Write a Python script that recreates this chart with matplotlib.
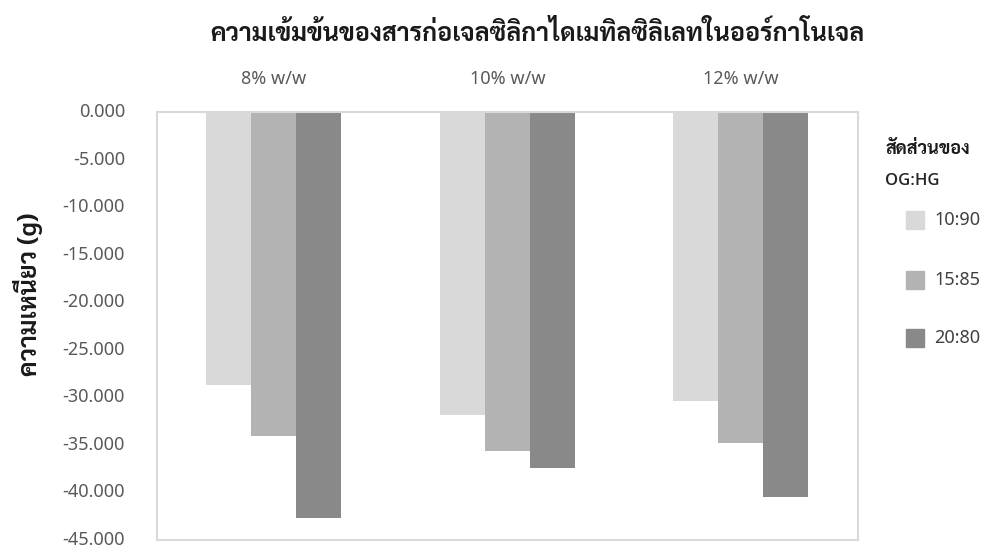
import matplotlib
matplotlib.use("Agg")
import matplotlib.pyplot as plt
from matplotlib.patches import Rectangle
from matplotlib.ticker import FuncFormatter, MultipleLocator
import numpy as np

categories = ["8% w/w", "10% w/w", "12% w/w"]
series_names = ["10:90", "15:85", "20:80"]
values_10_90 = [-28.7, -31.9, -30.4]
values_15_85 = [-34.1, -35.6, -34.8]
values_20_80 = [-42.7, -37.4, -40.5]
colors = ["#d9d9d9", "#b3b3b3", "#898989"]

title = "ความเข้มข้นของสารก่อเจลซิลิกาไดเมทิลซิลิเลทในออร์กาโนเจล"
ylabel = "ความเหนียว (g)"
legend_title = ["สัดส่วนของ", "OG:HG"]

THAI = ["Sarabun", "Noto Sans Thai", "DejaVu Sans"]
LATIN = ["Noto Sans", "DejaVu Sans"]
LATIN_BOLD = ["Open Sans", "Noto Sans", "DejaVu Sans"]
plt.rcParams["font.family"] = LATIN

W, H = 985, 548
fig = plt.figure(figsize=(W / 100, H / 100), dpi=100)
ax = fig.add_axes([157 / W, 1 - 540 / H, 700.7 / W, 428 / H])

x = np.arange(len(categories))
w = 0.1926
for i, vals in enumerate([values_10_90, values_15_85, values_20_80]):
    ax.bar(x + (i - 1) * w, vals, width=w, color=colors[i], edgecolor="none",
           label=series_names[i])

ax.set_xlim(-0.5, 2.5)
ax.set_ylim(-45, 0)
ax.yaxis.set_major_locator(MultipleLocator(5))
ax.yaxis.set_major_formatter(FuncFormatter(lambda v, p: f"{v:.3f}"))
ax.tick_params(axis="y", length=0, pad=23, labelsize=13, labelcolor="#595959")
for lbl in ax.get_yticklabels():
    lbl.set_verticalalignment("center")
ax.set_xticks(x)
ax.set_xticklabels(categories)
ax.xaxis.set_ticks_position("top")
ax.tick_params(axis="x", length=0, pad=17, labelsize=13, labelcolor="#595959")
for s in ax.spines.values():
    s.set_color("#d9d9d9")
    s.set_linewidth(1.5)

fig.text(537 / W, 1 - 34 / H, title, ha="center", va="center", family=THAI,
         fontsize=18, fontweight="bold", color="#1a1a1a")
fig.text(28 / W, 1 - 294 / H, ylabel, ha="center", va="center", family=THAI,
         rotation=90, fontsize=18, fontweight="bold", color="#1a1a1a")

fig.text(885 / W, 1 - 150 / H, legend_title[0], ha="left", va="center", family=THAI,
         fontsize=13, fontweight="bold", color="#1a1a1a")
fig.text(885 / W, 1 - 181 / H, legend_title[1], ha="left", va="center", family=LATIN_BOLD,
         fontsize=12, fontweight="semibold", color="#262626")
for i, (name, yy) in enumerate(zip(series_names, [220, 280, 338])):
    fig.patches.append(Rectangle((906 / W, 1 - (yy + 9) / H), 18 / W, 18 / H,
                                 transform=fig.transFigure, color=colors[i]))
    fig.text(934 / W, 1 - yy / H, name, ha="left", va="center",
             fontsize=13, color="#404040")

fig.savefig("out.png", dpi=100)
